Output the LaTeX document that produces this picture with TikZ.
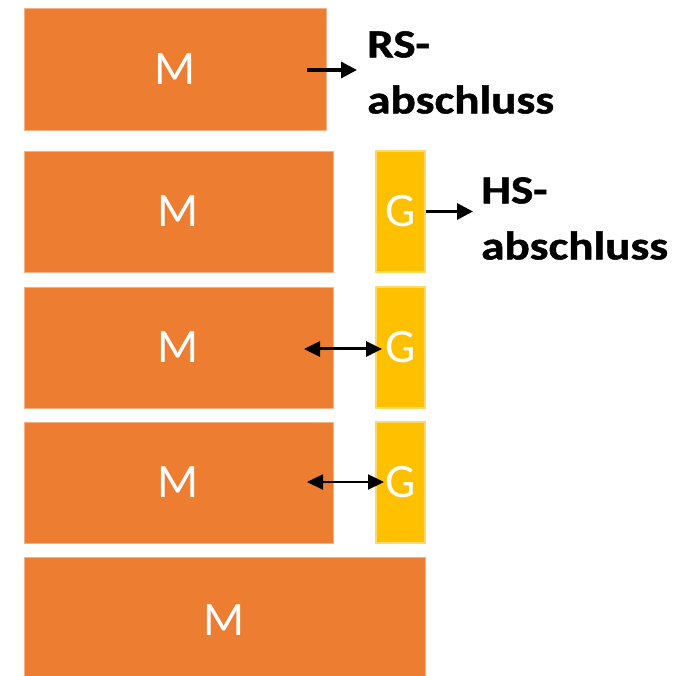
\documentclass[tikz,border=0pt]{standalone}
\usepackage{fontspec}
\setmainfont{Carlito}
\newfontfamily\lblfont[FakeStretch=1.18,FakeBold=1.2]{Carlito}
\usetikzlibrary{arrows.meta}
\definecolor{morange}{HTML}{ED7D31}
\definecolor{mgold}{HTML}{FFC000}
\definecolor{oedge}{HTML}{F4B183}
\definecolor{gedge}{HTML}{FFD966}
\begin{document}
\begin{tikzpicture}[x=1pt,y=-1pt,
  mbox/.style={rectangle, fill=morange, draw=oedge, line width=0.8pt, text=white,
    font=\fontsize{48}{48}\selectfont, inner sep=0pt},
  gbox/.style={rectangle, fill=mgold, draw=gedge, line width=1.5pt, text=white,
    font=\fontsize{48}{48}\selectfont, inner sep=0pt, minimum width=49pt, minimum height=121pt},
  lbl/.style={font=\lblfont\bfseries\fontsize{40}{56}\selectfont, align=left,
    anchor=north west, inner sep=0pt},
  arr/.style={line width=3.2pt, -{Triangle[length=16pt,width=16pt]}},
  darr/.style={{Triangle[length=16pt,width=15pt]}-{Triangle[length=16pt,width=15pt]}},
]
\useasboundingbox (0,0) rectangle (694,676);
\fill[white] (0,0) rectangle (694,676);

\node[mbox, minimum width=302pt, minimum height=122pt] (m1) at (175,69) {M};
\node[mbox, minimum width=309pt, minimum height=121pt] (m2) at (178.5,211.5) {M};
\node[mbox, minimum width=309pt, minimum height=121pt] (m3) at (178.5,347.5) {M};
\node[mbox, minimum width=309pt, minimum height=121pt] (m4) at (178.5,482.5) {M};
\node[mbox, minimum width=401pt, minimum height=127pt] (m5) at (224.5,620.5) {M};

\node[gbox] (g1) at (400.5,211.5) {G};
\node[gbox] (g2) at (400.5,347.5) {G};
\node[gbox] (g3) at (400.5,482.5) {G};

\node[lbl] (rs) at (367,31) {RS-\\abschluss};
\node[lbl] (hs) at (481,177) {HS-\\abschluss};

\coordinate (rsS) at (307,70);
\coordinate (rsE) at (357,70);
\draw[arr] (rsS) -- (rsE);

\coordinate (hsE) at (473,211.5);
\draw[arr] (g1.east) -- (hsE);

\coordinate (d1a) at (304,349);
\coordinate (d1b) at (382,349);
\draw[darr, line width=3pt] (d1a) -- (d1b);

\coordinate (d2a) at (307,482);
\coordinate (d2b) at (384,482);
\draw[darr, line width=2.2pt] (d2a) -- (d2b);
\end{tikzpicture}
\end{document}
